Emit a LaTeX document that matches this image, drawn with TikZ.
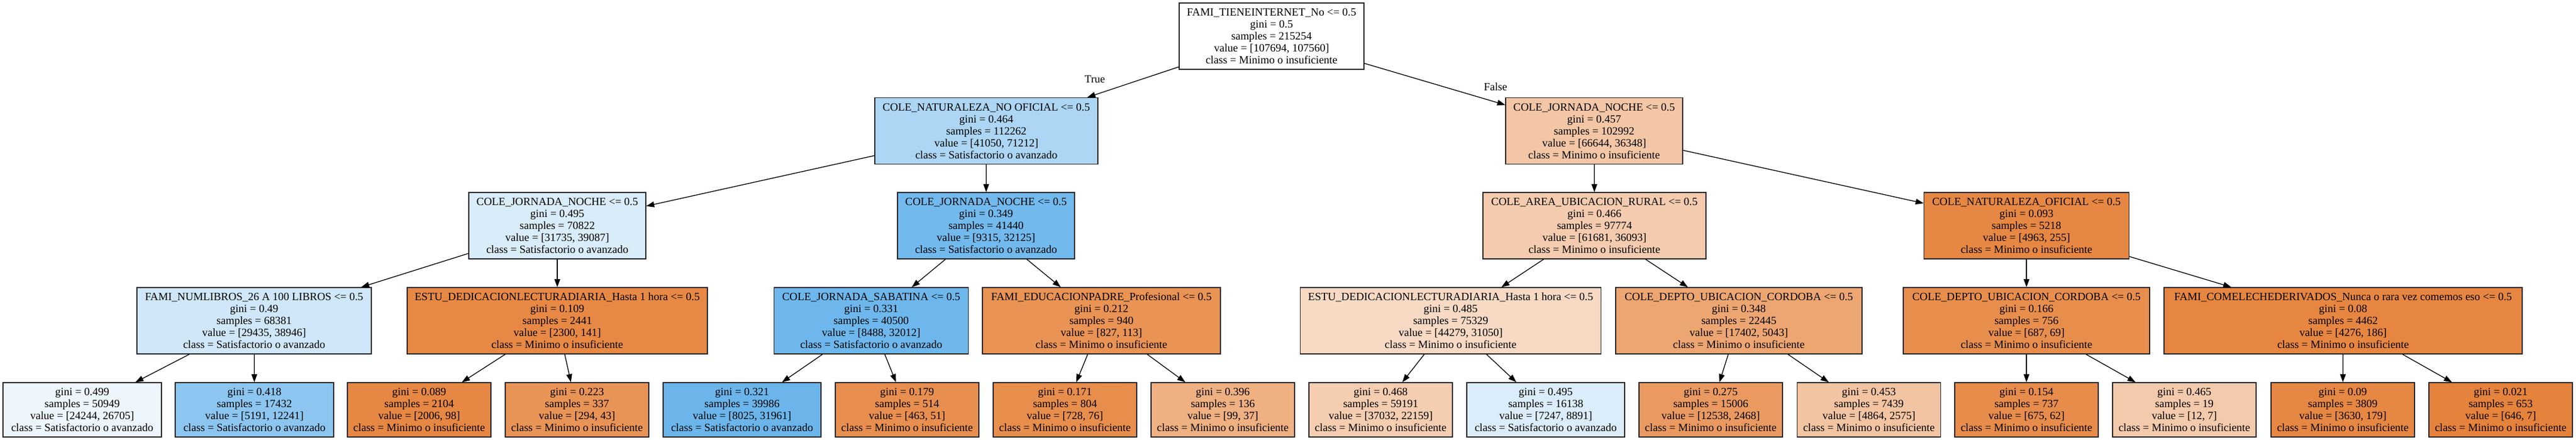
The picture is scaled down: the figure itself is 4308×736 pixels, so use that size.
\documentclass[tikz,border=0pt]{standalone}
\usepackage{fontspec}
\setmainfont{Liberation Serif}
\usetikzlibrary{arrows.meta}
\definecolor{cA}{RGB}{229,129,57}
\definecolor{cB}{RGB}{57,157,229}
\newcommand\treefont{\fontsize{18.5pt}{20pt}\selectfont}
\tikzset{
  tnode/.style={draw=black!85, line width=1.3pt, inner sep=0pt, align=center, font=\treefont, minimum height=111pt},
  tleaf/.style={tnode, minimum height=91pt, minimum width=240pt},
  tleafw/.style={tleaf, minimum width=264pt},
  tedge/.style={draw=black, line width=1.3pt, -{Triangle[length=13.5pt,width=9.5pt]}},
  tlabel/.style={font=\treefont, inner sep=0pt}
}
\begin{document}
\begin{tikzpicture}[x=1pt,y=-1pt]
\fill[white] (0,0) rectangle (4308,736);
\useasboundingbox (0,0) rectangle (4308,736);

% root
\node[tnode, fill=white, minimum width=309pt] (r) at (2126.5,60.5)
 {FAMI\_TIENEINTERNET\_No <= 0.5\\gini = 0.5\\samples = 215254\\value = [107694, 107560]\\class = Minimo o insuficiente};

% level 1
\node[tnode, fill=cB!42!white, minimum width=373pt] (a) at (1649.5,219)
 {COLE\_NATURALEZA\_NO OFICIAL <= 0.5\\gini = 0.464\\samples = 112262\\value = [41050, 71212]\\class = Satisfactorio o avanzado};
\node[tnode, fill=cA!45!white, minimum width=296pt] (b) at (2666,219)
 {COLE\_JORNADA\_NOCHE <= 0.5\\gini = 0.457\\samples = 102992\\value = [66644, 36348]\\class = Minimo o insuficiente};

% level 2
\node[tnode, fill=cB!19!white, minimum width=296pt] (aa) at (932,377.5)
 {COLE\_JORNADA\_NOCHE <= 0.5\\gini = 0.495\\samples = 70822\\value = [31735, 39087]\\class = Satisfactorio o avanzado};
\node[tnode, fill=cB!71!white, minimum width=296pt] (ab) at (1649,377.5)
 {COLE\_JORNADA\_NOCHE <= 0.5\\gini = 0.349\\samples = 41440\\value = [9315, 32125]\\class = Satisfactorio o avanzado};
\node[tnode, fill=cA!41!white, minimum width=373pt] (ba) at (2666.5,377.5)
 {COLE\_AREA\_UBICACION\_RURAL <= 0.5\\gini = 0.466\\samples = 97774\\value = [61681, 36093]\\class = Minimo o insuficiente};
\node[tnode, fill=cA!95!white, minimum width=342.5pt] (bb) at (3389,377.5)
 {COLE\_NATURALEZA\_OFICIAL <= 0.5\\gini = 0.093\\samples = 5218\\value = [4963, 255]\\class = Minimo o insuficiente};

% level 3
\node[tnode, fill=cB!24!white, minimum width=392pt] (aaa) at (425,536.5)
 {FAMI\_NUMLIBROS\_26 A 100 LIBROS <= 0.5\\gini = 0.49\\samples = 68381\\value = [29435, 38946]\\class = Satisfactorio o avanzado};
\node[tnode, fill=cA!94!white, minimum width=502pt] (aab) at (932,536.5)
 {ESTU\_DEDICACIONLECTURADIARIA\_Hasta 1 hora <= 0.5\\gini = 0.109\\samples = 2441\\value = [2300, 141]\\class = Minimo o insuficiente};
\node[tnode, fill=cB!73!white, minimum width=325.5pt] (aba) at (1457,536.5)
 {COLE\_JORNADA\_SABATINA <= 0.5\\gini = 0.331\\samples = 40500\\value = [8488, 32012]\\class = Satisfactorio o avanzado};
\node[tnode, fill=cA!86!white, minimum width=398pt] (abb) at (1842,536.5)
 {FAMI\_EDUCACIONPADRE\_Profesional <= 0.5\\gini = 0.212\\samples = 940\\value = [827, 113]\\class = Minimo o insuficiente};
\node[tnode, fill=cA!30!white, minimum width=502.5pt] (baa) at (2426,536.5)
 {ESTU\_DEDICACIONLECTURADIARIA\_Hasta 1 hora <= 0.5\\gini = 0.485\\samples = 75329\\value = [44279, 31050]\\class = Minimo o insuficiente};
\node[tnode, fill=cA!71!white, minimum width=412pt] (bab) at (2908,536.5)
 {COLE\_DEPTO\_UBICACION\_CORDOBA <= 0.5\\gini = 0.348\\samples = 22445\\value = [17402, 5043]\\class = Minimo o insuficiente};
\node[tnode, fill=cA!90!white, minimum width=412pt] (bba) at (3389,536.5)
 {COLE\_DEPTO\_UBICACION\_CORDOBA <= 0.5\\gini = 0.166\\samples = 756\\value = [687, 69]\\class = Minimo o insuficiente};
\node[tnode, fill=cA!96!white, minimum width=599pt] (bbb) at (3918.5,536.5)
 {FAMI\_COMELECHEDERIVADOS\_Nunca o rara vez comemos eso <= 0.5\\gini = 0.08\\samples = 4462\\value = [4276, 186]\\class = Minimo o insuficiente};

% leaves
\node[tleaf, fill=cB!9!white, minimum width=265pt] (l1) at (137.5,685.5)
 {gini = 0.499\\samples = 50949\\value = [24244, 26705]\\class = Satisfactorio o avanzado};
\node[tleaf, fill=cB!58!white, minimum width=265pt] (l2) at (425.5,685.5)
 {gini = 0.418\\samples = 17432\\value = [5191, 12241]\\class = Satisfactorio o avanzado};
\node[tleaf, fill=cA!95!white] (l3) at (701,685.5)
 {gini = 0.089\\samples = 2104\\value = [2006, 98]\\class = Minimo o insuficiente};
\node[tleaf, fill=cA!85!white] (l4) at (965,685.5)
 {gini = 0.223\\samples = 337\\value = [294, 43]\\class = Minimo o insuficiente};
\node[tleafw, fill=cB!75!white] (l5) at (1241,685.5)
 {gini = 0.321\\samples = 39986\\value = [8025, 31961]\\class = Satisfactorio o avanzado};
\node[tleaf, fill=cA!89!white] (l6) at (1517,685.5)
 {gini = 0.179\\samples = 514\\value = [463, 51]\\class = Minimo o insuficiente};
\node[tleaf, fill=cA!90!white] (l7) at (1781,685.5)
 {gini = 0.171\\samples = 804\\value = [728, 76]\\class = Minimo o insuficiente};
\node[tleaf, fill=cA!63!white] (l8) at (2045,685.5)
 {gini = 0.396\\samples = 136\\value = [99, 37]\\class = Minimo o insuficiente};
\node[tleaf, fill=cA!40!white] (l9) at (2309,685.5)
 {gini = 0.468\\samples = 59191\\value = [37032, 22159]\\class = Minimo o insuficiente};
\node[tleafw, fill=cB!18!white] (l10) at (2585,685.5)
 {gini = 0.495\\samples = 16138\\value = [7247, 8891]\\class = Satisfactorio o avanzado};
\node[tleaf, fill=cA!80!white] (l11) at (2861,685.5)
 {gini = 0.275\\samples = 15006\\value = [12538, 2468]\\class = Minimo o insuficiente};
\node[tleaf, fill=cA!47!white] (l12) at (3125.5,685.5)
 {gini = 0.453\\samples = 7439\\value = [4864, 2575]\\class = Minimo o insuficiente};
\node[tleaf, fill=cA!91!white] (l13) at (3389,685.5)
 {gini = 0.154\\samples = 737\\value = [675, 62]\\class = Minimo o insuficiente};
\node[tleaf, fill=cA!42!white] (l14) at (3653,685.5)
 {gini = 0.465\\samples = 19\\value = [12, 7]\\class = Minimo o insuficiente};
\node[tleaf, fill=cA!95!white] (l15) at (3918,685.5)
 {gini = 0.09\\samples = 3809\\value = [3630, 179]\\class = Minimo o insuficiente};
\node[tleaf, fill=cA!99!white] (l16) at (4182,685.5)
 {gini = 0.021\\samples = 653\\value = [646, 7]\\class = Minimo o insuficiente};

% edges
\draw[tedge] (r) -- (a);
\draw[tedge] (r) -- (b);
\node[tlabel] (tlab) at (1831,133) {True};
\node[tlabel] (flab) at (2501,145) {False};
\draw[tedge] (a) -- (aa);
\draw[tedge] (a) -- (ab);
\draw[tedge] (b) -- (ba);
\draw[tedge] (b) -- (bb);
\draw[tedge] (aa) -- (aaa);
\draw[tedge] (aa) -- (aab);
\draw[tedge] (ab) -- (aba);
\draw[tedge] (ab) -- (abb);
\draw[tedge] (ba) -- (baa);
\draw[tedge] (ba) -- (bab);
\draw[tedge] (bb) -- (bba);
\draw[tedge] (bb) -- (bbb);
\draw[tedge] (aaa) -- (l1);
\draw[tedge] (aaa) -- (l2);
\draw[tedge] (aab) -- (l3);
\draw[tedge] (aab) -- (l4);
\draw[tedge] (aba) -- (l5);
\draw[tedge] (aba) -- (l6);
\draw[tedge] (abb) -- (l7);
\draw[tedge] (abb) -- (l8);
\draw[tedge] (baa) -- (l9);
\draw[tedge] (baa) -- (l10);
\draw[tedge] (bab) -- (l11);
\draw[tedge] (bab) -- (l12);
\draw[tedge] (bba) -- (l13);
\draw[tedge] (bba) -- (l14);
\draw[tedge] (bbb) -- (l15);
\draw[tedge] (bbb) -- (l16);
\end{tikzpicture}
\end{document}
